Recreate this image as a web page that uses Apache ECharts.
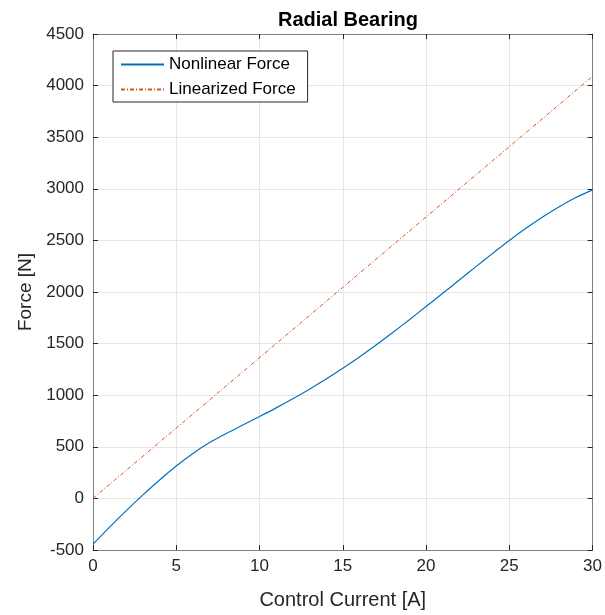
<!DOCTYPE html>
<html>
<head>
<meta charset="utf-8">
<script src="https://cdn.jsdelivr.net/npm/echarts@6/dist/echarts.min.js"></script>
<style>html,body{margin:0;padding:0;background:#fff;}#c{width:605px;height:615px;}</style>
</head>
<body>
<div id="c"></div>
<script>
const current = [0,1,2,3,4,5,6,7,8,9,10,11,12,13,14,15,16,17,18,19,20,21,22,23,24,25,26,27,28,29,30];
const nonlinearForce = [-443,-278,-118,34,179,314,436,541,629,711,793,877,965,1058,1156,1260,1370,1486,1607,1732,1859,1987,2116,2246,2374,2499,2617,2727,2827,2915,2990];
const linearCurrent = [0,30];
const linearizedForce = [0,4090];
const xTicks = {min:0,max:30,interval:5};
const yTicks = {min:-500,max:4500,interval:500};

const font = 'Liberation Sans, Arial, Helvetica, sans-serif';
const axisCol = '#262626';
const chart = echarts.init(document.getElementById('c'));
const plain = v => String(v);
const baseAxis = {
  type:'value',
  axisLine:{show:true,onZero:false,lineStyle:{color:'#808080',width:1}},
  axisTick:{show:true,inside:true,length:5,lineStyle:{color:'#262626'}},
  splitLine:{show:false},
  axisLabel:{color:axisCol,fontSize:17,fontFamily:font,formatter:plain}
};
chart.setOption({
  animation:false,
  title:{text:'Radial Bearing',left:343,textAlign:'center',top:5,textStyle:{fontSize:20,fontWeight:'bold',color:'#000',fontFamily:font}},
  grid:{left:93,right:12,top:34,bottom:65,containLabel:false},
  legend:{
    orient:'vertical',left:113,top:51,
    backgroundColor:'#fff',borderColor:'#262626',borderWidth:1,
    padding:[5,12,4,7],itemWidth:43,itemHeight:10,itemGap:8,
    itemStyle:{opacity:0},
    textStyle:{fontSize:17,color:'#000',fontFamily:font},
    data:['Nonlinear Force','Linearized Force']
  },
  xAxis:[
    Object.assign({},baseAxis,{position:'bottom',min:xTicks.min,max:xTicks.max,interval:xTicks.interval,
      name:'Control Current [A]',nameLocation:'middle',nameGap:40,
      nameTextStyle:{fontSize:20,color:axisCol,fontFamily:font},
      axisLabel:{color:axisCol,fontSize:17,fontFamily:font,margin:8,formatter:plain},
      splitLine:{show:true,lineStyle:{color:'#e6e6e6',width:1}}}),
    Object.assign({},baseAxis,{position:'top',min:xTicks.min,max:xTicks.max,interval:xTicks.interval,axisLabel:{show:false}})
  ],
  yAxis:[
    Object.assign({},baseAxis,{position:'left',min:yTicks.min,max:yTicks.max,interval:yTicks.interval,
      name:'Force [N]',nameLocation:'middle',nameGap:58,
      nameTextStyle:{fontSize:19,color:axisCol,fontFamily:font},
      axisLabel:{color:axisCol,fontSize:17,fontFamily:font,margin:9,formatter:plain},
      splitLine:{show:true,lineStyle:{color:'#e6e6e6',width:1}}}),
    Object.assign({},baseAxis,{position:'right',min:yTicks.min,max:yTicks.max,interval:yTicks.interval,axisLabel:{show:false}})
  ],
  series:[
    {name:'Nonlinear Force',type:'line',symbol:'none',smooth:0.3,
     data:current.map((x,i)=>[x,nonlinearForce[i]]),
     lineStyle:{color:'#0072BD',width:1.2},itemStyle:{color:'#0072BD'}},
    {name:'Linearized Force',type:'line',symbol:'none',
     data:linearCurrent.map((x,i)=>[x,linearizedForce[i]]),
     lineStyle:{color:'#D95319',width:1,type:[4,2,1,2]},itemStyle:{color:'#D95319'}}
  ]
});
</script>
</body>
</html>
